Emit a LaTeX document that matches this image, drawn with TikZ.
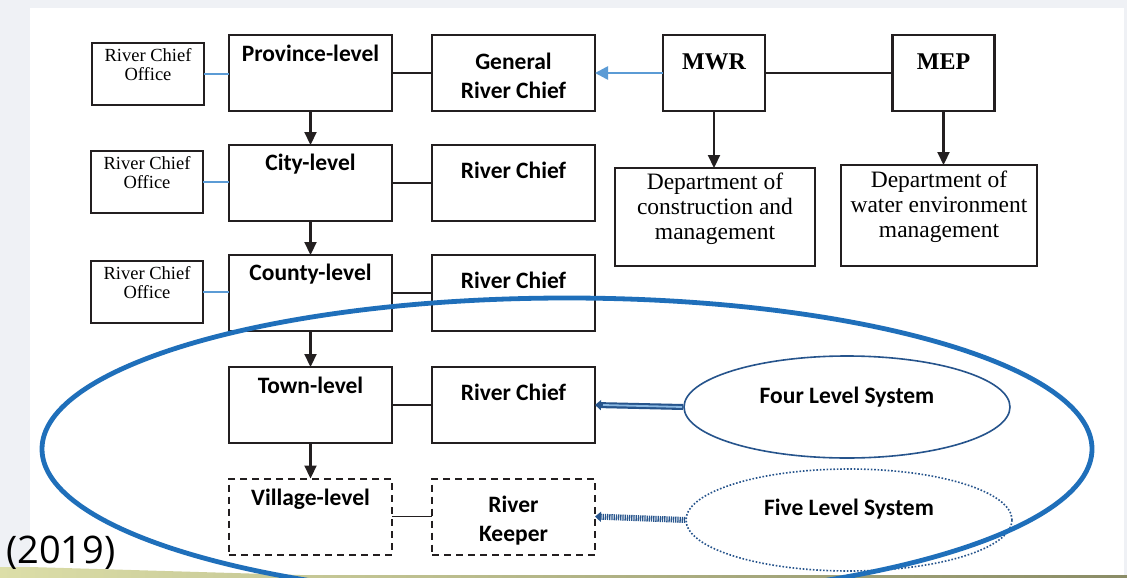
\documentclass[tikz,border=0pt]{standalone}
\usepackage{fontspec}
\setmainfont{Liberation Serif}
\newfontfamily\calfont{Carlito}
\newfontfamily\osfont{Open Sans}
\usetikzlibrary{arrows.meta,shapes.geometric}
\definecolor{frame}{HTML}{231F20}
\definecolor{ltblue}{HTML}{5B9BD5}
\definecolor{bigblue}{RGB}{31,111,186}
\definecolor{elblue}{RGB}{38,84,140}
\definecolor{bggray}{HTML}{EFF1F5}
\definecolor{bandL}{HTML}{DCDEA8}
\definecolor{bandR}{HTML}{8A8C66}
\begin{document}
\begin{tikzpicture}[x=1pt,y=-1pt,
  box/.style={draw=frame, line width=2.2pt, fill=white, inner sep=0pt, outer sep=0pt, minimum width=163pt, minimum height=76pt},
  dbox/.style={box, line width=2pt, dash pattern=on 7pt off 5pt},
  office/.style={box, minimum width=112pt, minimum height=62pt},
  minbox/.style={box, minimum width=102pt, minimum height=76pt},
  dept/.style={box, minimum width=200pt, minimum height=98pt},
  lvl/.style={font=\calfont\bfseries\fontsize{23.5}{29}\selectfont, inner sep=0pt, align=center},
  ser/.style={font=\fontsize{18.5}{19}\selectfont, inner sep=0pt, align=center},
  dser/.style={font=\fontsize{23.5}{25}\selectfont, inner sep=0pt, align=center},
  minT/.style={font=\bfseries\fontsize{24}{28}\selectfont, inner sep=0pt},
  link/.style={draw=frame, line width=1.4pt},
  blink/.style={draw=ltblue, line width=1.1pt},
  down/.style={draw=frame, line width=2.2pt, -{Triangle[length=13pt,width=12pt]}},
  sysell/.style={ellipse, draw=elblue, line width=1.6pt, minimum width=326pt, minimum height=102pt, inner sep=0pt, fill=white}
]
\useasboundingbox (0,0) rectangle (1127,578);
% background
\fill[bggray] (0,0) rectangle (1127,578);
\fill[white] (30,8) rectangle (1124,575);
\shade[left color=bandL, right color=bandR] (0,567) -- (30,567) -- (300,575) -- (1127,575) -- (1127,578) -- (0,578) -- cycle;

% boxes
\node[office] (rco1) at (148,74) {};
\node[box] (prov) at (310.5,73) {};
\node[box] (grc) at (513.5,73) {};
\node[minbox] (mwr) at (714,73) {};
\node[minbox] (mep) at (943.5,73) {};
\node[dept] (dcm) at (715,217) {};
\node[dept, minimum width=196pt, minimum height=101pt] (dwe) at (939,215.5) {};
\node[office] (rco2) at (147,182) {};
\node[box] (city) at (310.5,183) {};
\node[box] (rc2) at (513.5,183) {};
\node[office] (rco3) at (147,292) {};
\node[box] (county) at (310.5,293) {};
\node[box] (rc3) at (513.5,293) {};
\node[box] (town) at (310.5,405) {};
\node[box] (rc4) at (513.5,405) {};
\node[dbox] (village) at (310.5,516.5) {};
\node[dbox] (keeper) at (513.5,516.5) {};

% texts
\node[ser, anchor=north] (rco1t) at (148,48.5) {River Chief\\Office};
\node[ser, anchor=north] (rco2t) at (147,156.5) {River Chief\\Office};
\node[ser, anchor=north] (rco3t) at (147,266.5) {River Chief\\Office};
\node[lvl, anchor=base] (provt) at (310.5,62) {Province-level};
\node[lvl, anchor=north] (grct) at (513.5,53) {General\\River Chief};
\node[minT, anchor=base] (mwrt) at (714,70) {MWR};
\node[minT, anchor=base] (mept) at (943.5,70) {MEP};
\node[dser, anchor=north] (dcmt) at (715,173) {Department of\\construction and\\management};
\node[dser, anchor=north] (dwet) at (939,171) {Department of\\water environment\\management};
\node[lvl, anchor=base] (cityt) at (310.5,170) {City-level};
\node[lvl, anchor=base] (rc2t) at (513.5,178) {River Chief};
\node[lvl, anchor=base] (countyt) at (310.5,280) {County-level};
\node[lvl, anchor=base] (rc3t) at (513.5,288) {River Chief};
\node[lvl, anchor=base] (townt) at (310.5,393) {Town-level};
\node[lvl, anchor=base] (rc4t) at (513.5,400) {River Chief};
\node[lvl, anchor=base] (villaget) at (310.5,505) {Village-level};
\node[lvl, anchor=north] (keepert) at (513.5,496) {River\\Keeper};

% connectors
\draw[draw=ltblue, line width=2.2pt] (rco1.east) -- (rco1.east -| prov.west);
\draw[blink] (rco2.east) -- (rco2.east -| city.west);
\draw[blink] (rco3.east) -- (rco3.east -| county.west);
\draw[link] (prov.east) -- (grc.west);
\draw[link] (city.east) -- (rc2.west);
\draw[link] (county.east) -- (rc3.west);
\draw[link] (town.east) -- (rc4.west);
\draw[link] (village.east) -- (keeper.west);
\draw[link] (mwr.east) -- (mep.west);
\draw[draw=ltblue, line width=2.6pt, -{Triangle[length=13pt,width=13pt]}] (mwr.west) -- (grc.east);
\draw[down] (prov.south) -- (city.north);
\draw[down] (city.south) -- (county.north);
\draw[down] (county.south) -- (town.north);
\draw[down] (town.south) -- (village.north);
\draw[down] (mwr.south) -- (dcm.north -| mwr.south);
\draw[down] (mep.south) -- (dwe.north -| mep.south);

% system ellipses
\node[sysell] (four) at (847,407) {};
\node[sysell, dash pattern=on 1.6pt off 1.8pt] (five) at (849,520) {};
\node[lvl, anchor=base] (fourt) at (847,403) {Four Level System};
\node[lvl, anchor=base] (fivet) at (849,515) {Five Level System};
\draw[elblue, line width=6pt, -{Triangle[length=6pt,width=10pt]}] (four.west) -- (rc4.east);
\draw[ltblue!70!white, line width=1.8pt] ([xshift=-1pt]four.west) -- ([xshift=8pt]rc4.east);
\draw[elblue, line width=6pt, dash pattern=on 1.3pt off 0.9pt, -{Triangle[length=6pt,width=10pt]}] (five.west) -- (keeper.east);

% big enclosing ellipse
\begin{scope}
\clip (0,0) rectangle (1127,578);
\draw[bigblue, line width=4.8pt] (567,449) ellipse [x radius=525, y radius=151];
\end{scope}

\node[font=\osfont\fontsize{38}{40}\selectfont, anchor=base west, inner sep=0pt] (year) at (6,563) {(2019)};
\end{tikzpicture}
\end{document}
